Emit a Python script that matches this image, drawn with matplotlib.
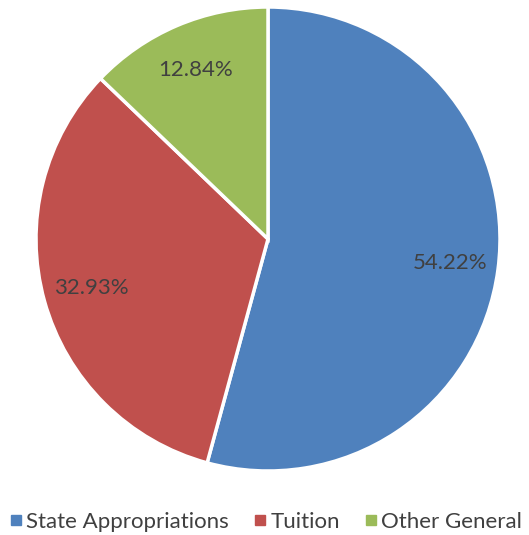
import matplotlib.pyplot as plt
from matplotlib.lines import Line2D

labels = ["State Appropriations", "Tuition", "Other General"]
shares = [54.22, 32.93, 12.84]
colors = ["#4F81BD", "#C0504D", "#9BBB59"]

plt.rcParams['font.family'] = ['Lato', 'DejaVu Sans']

fig = plt.figure(figsize=(5.29, 5.35), dpi=100)
ax = fig.add_axes([0, 0, 1, 1])

wedges, texts, autotexts = ax.pie(
    shares, colors=colors, startangle=90, counterclock=False,
    center=(268, 296), radius=232, autopct='%.2f%%', pctdistance=0.79,
    wedgeprops=dict(edgecolor='white', linewidth=2.5),
    textprops=dict(color='#404040', fontsize=16))
# show the values as given (autopct renormalises the sum)
for t, v in zip(autotexts, shares):
    t.set_text(f'{v:.2f}%')

ax.set_xlim(0, 529)
ax.set_ylim(0, 535)
ax.set_aspect('equal')
ax.axis('off')

handles = [Line2D([], [], marker='s', linestyle='', color=c, markersize=7)
           for c in colors]
fig.legend(handles, labels, loc='center', bbox_to_anchor=(0.5, 1 - 522 / 535),
           ncol=3, frameon=False, fontsize=16, labelcolor='#404040',
           handletextpad=0.05, columnspacing=1.0, handlelength=0.8,
           borderpad=0, borderaxespad=0)

fig.savefig("out.png", dpi=100)
